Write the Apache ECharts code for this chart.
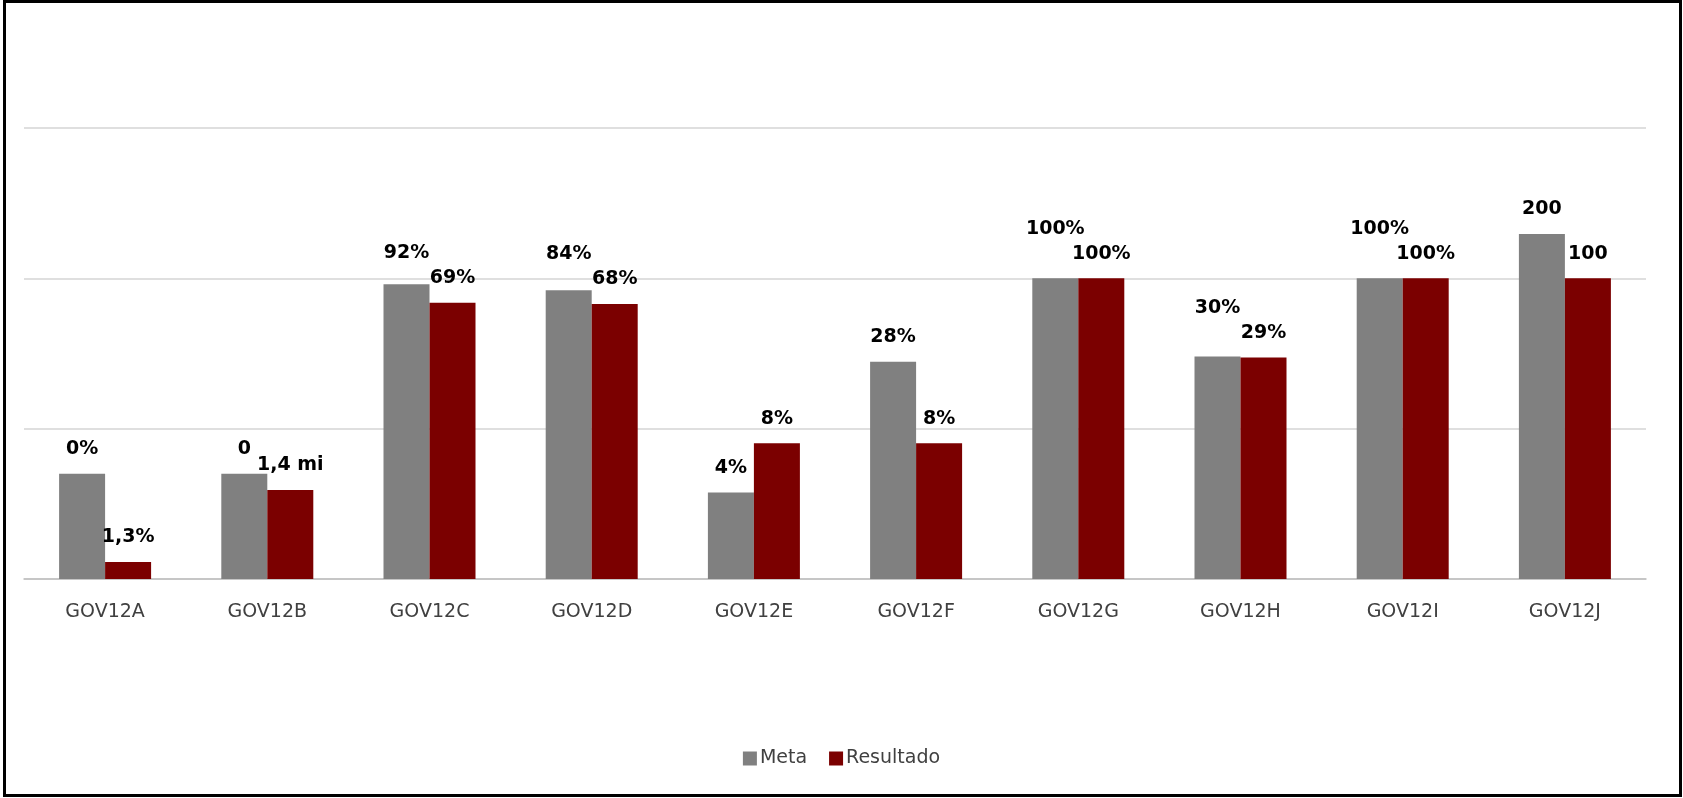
<!DOCTYPE html>
<html>
<head>
<meta charset="utf-8">
<script src="https://cdn.jsdelivr.net/npm/echarts@6/dist/echarts.min.js"></script>
<style>
html,body{margin:0;padding:0;background:#fff;}
#chart{width:1683px;height:798px;}
</style>
</head>
<body>
<div id="chart"></div>
<script>
const categories = ['GOV12A','GOV12B','GOV12C','GOV12D','GOV12E','GOV12F','GOV12G','GOV12H','GOV12I','GOV12J'];
const metaValues = [0.70, 0.70, 1.96, 1.92, 0.575, 1.445, 2.00, 1.48, 2.00, 2.295];
const resultValues = [0.113, 0.592, 1.838, 1.83, 0.903, 0.903, 2.00, 1.474, 2.00, 2.00];
const metaLabels = ['0%','0','92%','84%','4%','28%','100%','30%','100%','200'];
const resultLabels = ['1,3%','1,4 mi','69%','68%','8%','8%','100%','29%','100%','100'];
const seriesNames = ['Meta','Resultado'];

const LABEL_FONT = 'bold 19px "DejaVu Sans"';
const chart = echarts.init(document.getElementById('chart'), null, {renderer:'canvas'});

function labelCfg(texts){
  return {
    show:true, position:'top', distance:15,
    fontFamily:'DejaVu Sans', fontWeight:'bold', fontSize:19, color:'#000',
    formatter: p => texts[p.dataIndex]
  };
}

const option = {
  animation:false,
  backgroundColor:'#fff',
  graphic:[{
    type:'rect', z:-10, silent:true,
    shape:{x:4.5, y:1.5, width:1676, height:794},
    style:{fill:'none', stroke:'#000', lineWidth:3}
  }],
  grid:{left:24, right:37, top:128, bottom:219, containLabel:false},
  legend:{
    data:seriesNames, top:744, left:'center',
    icon:'rect', itemWidth:14, itemHeight:14, itemGap:22,
    textStyle:{fontFamily:'DejaVu Sans', fontSize:19, color:'#404040', padding:[0,0,0,-2]}
  },
  xAxis:{
    type:'category', data:categories,
    axisTick:{show:false},
    axisLine:{lineStyle:{color:'#BFBFBF', width:1.5}},
    axisLabel:{margin:24, fontFamily:'DejaVu Sans', fontSize:19, color:'#404040'}
  },
  yAxis:{
    type:'value', min:0, max:3, interval:1,
    axisLabel:{show:false}, axisLine:{show:false}, axisTick:{show:false},
    splitLine:{lineStyle:{color:'#D4D4D4', width:1.5}}
  },
  series:[
    {name:seriesNames[0], type:'bar', data:metaValues, barWidth:46, barGap:'0%',
     itemStyle:{color:'#808080'}, label:labelCfg(metaLabels)},
    {name:seriesNames[1], type:'bar', data:resultValues, barWidth:46, barGap:'0%',
     itemStyle:{color:'#7B0000'}, label:labelCfg(resultLabels)}
  ]
};
chart.setOption(option);

// Avoid overlapping data labels: lift the Meta label above the Resultado label when they collide
const ctx = document.createElement('canvas').getContext('2d');
ctx.font = LABEL_FONT;
const tw = s => ctx.measureText(s).width;
const sep = 25;
const metaData = metaValues.map((v, i) => {
  const yM = chart.convertToPixel({gridIndex:0}, [i, v])[1];
  const yR = chart.convertToPixel({gridIndex:0}, [i, resultValues[i]])[1];
  const barSpacing = 46;
  const hOverlap = (tw(metaLabels[i]) + tw(resultLabels[i])) / 2 + 4 > barSpacing;
  let lift = 0;
  if (hOverlap && Math.abs(yM - yR) < sep) {
    lift = yM - yR + sep;
  }
  return lift > 0 ? {value:v, label:{offset:[0, -lift]}} : v;
});
chart.setOption({series:[{data:metaData}, {}]});
</script>
</body>
</html>
